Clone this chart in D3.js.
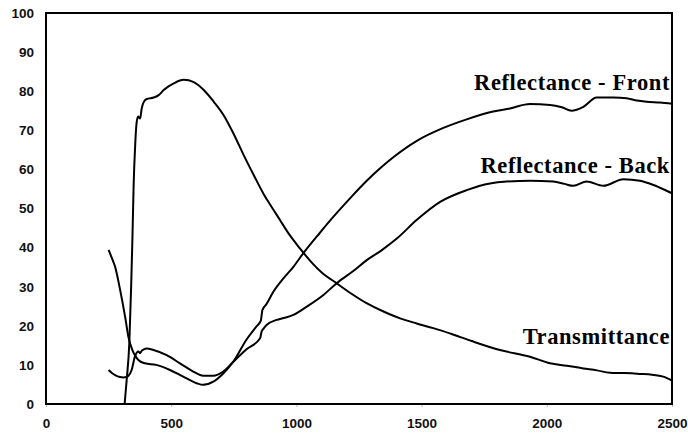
<!DOCTYPE html>
<html>
<head>
<meta charset="utf-8">
<script src="https://cdn.jsdelivr.net/npm/d3@7"></script>
<style>
  html, body { margin: 0; padding: 0; background: #fff; }
  svg { display: block; }
</style>
</head>
<body>
<svg id="chart" width="688" height="433"></svg>
<script>
// Wavelength (nm) vs percent
const transmittance = [
  [314,0],[322,6],[333,16],[340,30],[345,42],[350,56],[356,66],[362,72],[368,73.5],[376,73],
  [382,75.5],[390,77.2],[402,78],[430,78.4],[450,79],[470,80.3],[510,82],[550,82.9],[590,82.3],
  [630,80.3],[670,77.3],[710,73.8],[750,69],[790,63.6],[830,58.5],[870,53.6],[900,50.5],[935,47],
  [970,43.5],[1014,39.8],[1050,37],[1100,33.7],[1160,30.9],[1220,28.2],[1280,25.8],[1350,23.6],
  [1414,21.9],[1480,20.6],[1547,19.4],[1620,17.9],[1700,16.1],[1813,13.8],[1933,12.1],[2013,10.4],
  [2080,9.8],[2146,9.1],[2200,8.6],[2252,8.0],[2310,7.9],[2372,7.7],[2420,7.5],[2465,7.0],[2500,6.0]
];
const reflFront = [
  [250,39.4],[262,37.5],[276,35.1],[296,29.2],[316,22.3],[329,17.2],[345,13.8],[360,12],[370,11.2],
  [395,10.4],[440,10.0],[495,8.7],[548,7.0],[602,5.3],[628,4.9],[668,5.7],[708,7.8],[748,10.8],
  [801,16.5],[840,19.8],[858,21.3],[861,22.6],[864,24.0],[880,25.5],[908,28.7],[948,32.1],[988,35.1],
  [1028,38.6],[1094,43.8],[1148,47.9],[1214,52.6],[1281,57.1],[1340,60.6],[1387,63.1],[1481,67.3],
  [1587,70.6],[1680,72.8],[1786,74.8],[1853,75.6],[1933,76.7],[2013,76.5],[2060,75.9],[2099,75.0],
  [2146,76.0],[2199,78.4],[2266,78.4],[2319,78.2],[2360,77.6],[2399,77.3],[2452,77.1],[2500,76.8]
];
const reflBack = [
  [250,8.7],[262,8.0],[276,7.4],[295,6.9],[309,6.8],[322,6.9],[329,7.2],[342,8.7],[355,12.1],
  [369,13.4],[376,13.0],[382,13.6],[389,13.9],[402,14.2],[429,13.8],[482,12.5],[535,10.4],[588,8.3],
  [628,7.2],[668,7.2],[708,8.3],[748,10.8],[801,14.0],[855,16.8],[861,18.5],[868,19.2],[881,20.2],
  [921,21.5],[950,22.0],[988,22.8],[1041,24.9],[1108,27.9],[1161,30.9],[1227,34.0],[1281,36.8],
  [1340,39.3],[1401,42.3],[1481,47.1],[1574,51.7],[1680,54.7],[1773,56.4],[1840,56.9],[1933,57.1],
  [2026,56.9],[2070,56.3],[2106,55.8],[2159,56.9],[2226,55.8],[2306,57.5],[2372,57.1],[2426,56.0],
  [2470,54.8],[2500,53.9]
];
const xTicks = [0, 500, 1000, 1500, 2000, 2500];
const yTicks = [0, 10, 20, 30, 40, 50, 60, 70, 80, 90, 100];
const labels = [
  { text: "Reflectance - Front", x: 2492, y: 80.3 },
  { text: "Reflectance - Back", x: 2492, y: 59.1 },
  { text: "Transmittance", x: 2492, y: 15.3 }
];

const svg = d3.select("#chart");
const x = d3.scaleLinear().domain([0, 2500]).range([46, 672]);
const y = d3.scaleLinear().domain([0, 100]).range([404, 13]);

// x axis tick labels
const xa = svg.append("g").attr("transform", "translate(0,404)")
  .call(d3.axisBottom(x).tickValues(xTicks).tickSize(3).tickPadding(11).tickFormat(d3.format("d")));
xa.select(".domain").remove();
xa.selectAll("line").attr("stroke", "#bbb");
xa.selectAll("text").attr("font-family", "Liberation Sans, Arial, sans-serif")
  .attr("font-weight", "bold").attr("font-size", "13.5px").attr("fill", "#111");

// y axis tick labels
const ya = svg.append("g").attr("transform", "translate(46,0)")
  .call(d3.axisLeft(y).tickValues(yTicks).tickSize(0).tickPadding(12).tickFormat(d3.format("d")));
ya.select(".domain").remove();
ya.selectAll("text").attr("font-family", "Liberation Sans, Arial, sans-serif")
  .attr("font-weight", "bold").attr("font-size", "13.5px").attr("fill", "#111");

// frame
svg.append("rect")
  .attr("x", x(0)).attr("y", y(100))
  .attr("width", x(2500) - x(0)).attr("height", y(0) - y(100))
  .attr("fill", "none").attr("stroke", "#000").attr("stroke-width", 2);

const line = d3.line().x(d => x(d[0])).y(d => y(d[1])).curve(d3.curveMonotoneX);
[transmittance, reflFront, reflBack].forEach(s => {
  svg.append("path").datum(s).attr("d", line)
    .attr("fill", "none").attr("stroke", "#000").attr("stroke-width", 2)
    .attr("stroke-linejoin", "round");
});

svg.selectAll("text.lbl").data(labels).enter().append("text")
  .attr("class", "lbl")
  .attr("x", d => x(d.x)).attr("y", d => y(d.y))
  .attr("text-anchor", "end")
  .attr("font-family", "Liberation Serif, Times New Roman, serif")
  .attr("font-weight", "bold").attr("font-size", "22.5px")
  .attr("letter-spacing", "0.6px").attr("fill", "#000")
  .text(d => d.text);
</script>
</body>
</html>
